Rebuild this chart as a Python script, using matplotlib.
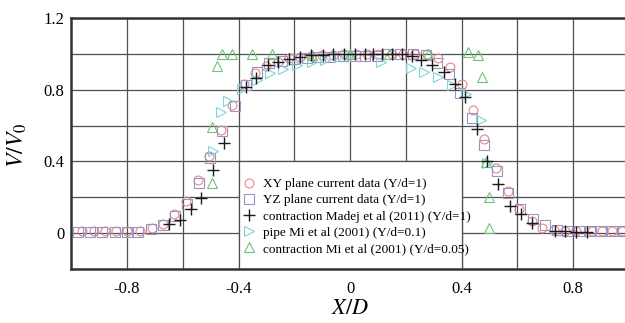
import matplotlib
matplotlib.use("Agg")
import matplotlib.pyplot as plt
from matplotlib.patches import Rectangle

plt.rcParams["font.family"] = ["Liberation Serif", "DejaVu Serif"]
plt.rcParams["mathtext.fontset"] = "stix"
plt.rcParams["axes.unicode_minus"] = False

# XY plane, current data (Y/d=1)
xy_x = [-0.96, -0.92, -0.88, -0.84, -0.80, -0.755, -0.71, -0.67, -0.63, -0.588,
        -0.546, -0.505, -0.464, -0.423, -0.38, -0.34, -0.30, -0.26, -0.22, -0.18,
        -0.14, -0.10, -0.06, -0.02, 0.02, 0.06, 0.10, 0.15, 0.19, 0.233,
        0.277, 0.317, 0.359, 0.40, 0.44, 0.482, 0.524, 0.568, 0.606, 0.652,
        0.69, 0.73, 0.77, 0.81, 0.867, 0.903, 0.939, 0.975]
xy_y = [0.01, 0.01, 0.01, 0.01, 0.01, 0.013, 0.028, 0.05, 0.105, 0.18,
        0.296, 0.433, 0.578, 0.713, 0.832, 0.893, 0.933, 0.952, 0.976, 0.981,
        0.989, 0.994, 0.995, 1.0, 1.0, 1.0, 1.0, 1.0, 1.0, 1.0,
        1.0, 0.976, 0.925, 0.833, 0.689, 0.526, 0.365, 0.233, 0.132, 0.068,
        0.031, 0.015, 0.01, 0.01, 0.01, 0.01, 0.01, 0.01]

# YZ plane, current data (Y/d=1)
yz_x = [-0.975, -0.933, -0.891, -0.843, -0.801, -0.759, -0.714, -0.672, -0.628, -0.586,
        -0.543, -0.502, -0.46, -0.413, -0.372, -0.333, -0.29, -0.245, -0.20, -0.155,
        -0.114, -0.072, -0.024, 0.018, 0.054, 0.096, 0.137, 0.179, 0.227, 0.273,
        0.313, 0.356, 0.395, 0.439, 0.482, 0.526, 0.568, 0.61, 0.655, 0.70,
        0.741, 0.78, 0.82, 0.86, 0.90, 0.94, 0.98]
yz_y = [0.006, 0.006, 0.006, 0.006, 0.006, 0.008, 0.022, 0.044, 0.096, 0.161,
        0.281, 0.42, 0.568, 0.707, 0.828, 0.90, 0.95, 0.962, 0.97, 0.976,
        0.98, 0.983, 0.987, 0.99, 0.99, 0.99, 1.0, 1.0, 1.0, 0.994,
        0.948, 0.889, 0.78, 0.643, 0.494, 0.346, 0.226, 0.133, 0.078, 0.044,
        0.018, 0.01, 0.01, 0.01, 0.01, 0.01, 0.01]

# contraction, Madej et al (2011)
mj_x = [-0.65, -0.61, -0.57, -0.533, -0.492, -0.453, -0.373, -0.339, -0.295, -0.257,
        -0.218, -0.181, -0.141, -0.098, -0.06, -0.022, 0.018, 0.054, 0.084, 0.114,
        0.15, 0.185, 0.221, 0.255, 0.295, 0.337, 0.377, 0.414, 0.457, 0.493,
        0.532, 0.573, 0.612, 0.652, 0.735, 0.771, 0.81, 0.849]
mj_y = [0.05, 0.076, 0.133, 0.195, 0.35, 0.502, 0.815, 0.868, 0.937, 0.952,
        0.973, 0.985, 0.992, 0.995, 0.997, 1.0, 1.0, 1.0, 1.0, 1.0,
        1.0, 1.0, 0.99, 0.967, 0.936, 0.899, 0.833, 0.757, 0.582, 0.40,
        0.272, 0.152, 0.105, 0.059, 0.013, 0.01, 0.008, 0.005]

# pipe, Mi et al (2001)
pp_x = [-0.49, -0.462, -0.437, -0.389, -0.333, -0.287, -0.239, -0.19, -0.137, -0.09,
        -0.04, 0.006, 0.111, 0.218, 0.266, 0.317, 0.365, 0.416, 0.47, 0.49]
pp_y = [0.457, 0.677, 0.735, 0.805, 0.856, 0.891, 0.915, 0.937, 0.955, 0.968,
        0.98, 0.994, 0.955, 0.922, 0.9, 0.87, 0.828, 0.775, 0.632, 0.393]

# contraction, Mi et al (2001)
cm_x = [-0.497, -0.496, -0.478, -0.459, -0.422, -0.351, -0.281, -0.137, 0.0, 0.14,
        0.281, 0.424, 0.46, 0.473, 0.489, 0.5, 0.5]
cm_y = [0.281, 0.59, 0.93, 1.0, 1.0, 1.0, 1.0, 0.995, 1.0, 1.0,
        1.0, 1.01, 0.995, 0.872, 0.395, 0.2, 0.03]

labels = [
    "XY plane current data (Y/d=1)",
    "YZ plane current data (Y/d=1)",
    "contraction Madej et al (2011) (Y/d=1)",
    "pipe Mi et al (2001) (Y/d=0.1)",
    "contraction Mi et al (2001) (Y/d=0.05)",
]

x_ticks = [-0.8, -0.4, 0.0, 0.4, 0.8]
x_tick_labels = ["-0.8", "-0.4", "0", "0.4", "0.8"]
y_ticks = [0.0, 0.4, 0.8, 1.2]
y_tick_labels = ["0", "0.4", "0.8", "1.2"]

grid_color = "#505050"

fig = plt.figure(figsize=(6.25, 3.23), dpi=100)
ax = fig.add_axes([0.1141, 0.1672, 0.892, 0.7771])

hollow = dict(linestyle="none", markerfacecolor="none", markeredgewidth=0.8)
ax.plot(xy_x, xy_y, marker="o", markersize=6.4, markeredgecolor="#e98585", label=labels[0], zorder=3, **hollow)
ax.plot(yz_x, yz_y, marker="s", markersize=6.8, markeredgecolor="#9a93c6", label=labels[1], zorder=3, **hollow)
ax.plot(mj_x, mj_y, marker="+", markersize=9, markeredgecolor="#1a1a1a", label=labels[2], zorder=4,
        linestyle="none", markeredgewidth=1.0)
ax.plot(pp_x, pp_y, marker=">", markersize=6.6, markeredgecolor="#7fd3da", label=labels[3], zorder=3, **hollow)
ax.plot(cm_x, cm_y, marker="^", markersize=6.6, markeredgecolor="#72c172", label=labels[4], zorder=3, **hollow)

ax.set_xlim(-1.0, 1.0)
ax.set_ylim(-0.2, 1.2)
ax.set_xticks(x_ticks)
ax.set_xticklabels(x_tick_labels)
ax.set_yticks(y_ticks)
ax.set_yticklabels(y_tick_labels)
ax.set_xticks([-0.6, -0.2, 0.2, 0.6], minor=True)
ax.set_yticks([-0.2, 0.2, 0.6, 1.0], minor=True)
ax.tick_params(which="both", length=0)
ax.tick_params(axis="x", pad=9, labelsize=12)
ax.tick_params(axis="y", pad=5, labelsize=12)
ax.set_axisbelow(True)
ax.grid(True, which="both", color=grid_color, linewidth=0.9)

for side in ("left", "bottom", "top"):
    ax.spines[side].set_linewidth(1.8)
    ax.spines[side].set_color("#333333")
ax.spines["right"].set_visible(False)

# white panel behind the legend, bounded by the grid cell
ax.add_patch(Rectangle((-0.4, -0.2), 0.8, 0.6, facecolor="white", edgecolor=grid_color,
                       linewidth=0.9, zorder=1.5))
ax.legend(loc="upper left", bbox_to_anchor=((253 - 71.3 - 12) / 557.5, (269 - 178) / 251),
          frameon=False, fontsize=9.5, handletextpad=0.5, handlelength=1.2,
          labelspacing=0.3, borderpad=0.0, borderaxespad=0.0)

fig.text(17 / 625, 1 - 145 / 323, "$V/V_0$", rotation=90, ha="center", va="center", fontsize=17)
fig.text(350 / 625, 1 - 310 / 323, "$X/D$", ha="center", va="center", fontsize=16)

fig.savefig("out.png", dpi=100)
